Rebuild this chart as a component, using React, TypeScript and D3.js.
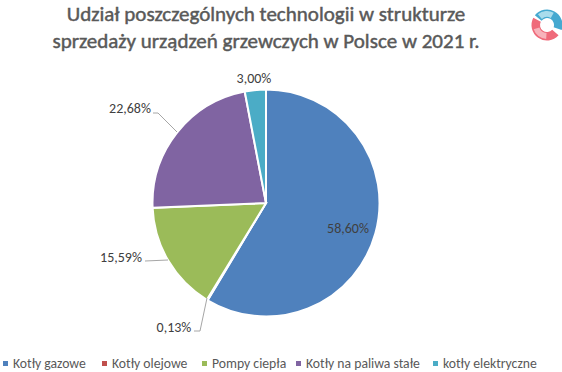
import React from "react";
import * as d3 from "d3";

const categories = ["Kotły gazowe", "Kotły olejowe", "Pompy ciepła", "Kotły na paliwa stałe", "kotły elektryczne"];
const values = [58.6, 0.13, 15.59, 22.68, 3.0];
const labels = ["58,60%", "0,13%", "15,59%", "22,68%", "3,00%"];
const colors = ["#4f81bd", "#c0504d", "#9bbb59", "#8064a2", "#4bacc6"];
const titleLines = ["Udział poszczególnych technologii w strukturze", "sprzedaży urządzeń grzewczych w Polsce w 2021 r."];
const legendX = [3, 102, 202, 296, 433];
const labelPos: [number, number][] = [
  [348, 228], [174, 327], [121, 257], [130, 108], [254, 78],
];
const leaders: [number, number][][] = [
  [],
  [[207, 298], [200, 331], [194, 331]],
  [[168, 260], [145, 261]],
  [[177, 132], [158, 113], [153, 113]],
  [],
];

const font = "Carlito, Lato, 'Open Sans', sans-serif";

export default function App() {
  const pie = d3.pie<number>().sort(null).value((d) => d)(values);
  const arc = d3.arc<d3.PieArcDatum<number>>().innerRadius(0).outerRadius(113.5);
  const line = d3.line();
  const logo = d3.arc();
  return (
    <svg width={562} height={372} style={{ position: "absolute", left: 0, top: 0, background: "#fff" }} fontFamily={font}>
      {titleLines.map((t, i) => (
        <text key={i} x={266} y={21 + i * 27} textAnchor="middle" fontSize={21} fontWeight={400} fill="#595959" stroke="#595959" strokeWidth={0.45}>{t}</text>
      ))}
      <g transform="translate(266,203)">
        {pie.map((d, i) => (
          <path key={i} d={arc(d) ?? ""} fill={colors[i]} stroke="#fff" strokeWidth={2} />
        ))}
      </g>
      {leaders.map((l, i) => l.length ? (
        <path key={i} d={line(l) ?? ""} fill="none" stroke="#a6a6a6" strokeWidth={1} />
      ) : null)}
      {labels.map((t, i) => (
        <text key={i} x={labelPos[i][0]} y={labelPos[i][1] + 5} textAnchor="middle" fontSize={14} fill="#404040">{t}</text>
      ))}
      {categories.map((c, i) => (
        <g key={i}>
          <rect x={legendX[i]} y={361} width={5} height={5} fill={colors[i]} />
          <text x={legendX[i] + 10} y={368} fontSize={13.7} fill="#595959">{c}</text>
        </g>
      ))}
      <g transform="translate(547,25)">
        <path d={logo({ innerRadius: 7, outerRadius: 15.5, startAngle: -0.9, endAngle: 1.9 }) ?? ""} fill="#45a9d0" />
        <path d={logo({ innerRadius: 7, outerRadius: 15.5, startAngle: 2.3, endAngle: 5.2 }) ?? ""} fill="#ef6a7a" />
        <path d={logo({ innerRadius: 8, outerRadius: 14, startAngle: -0.7, endAngle: 0.5 }) ?? ""} fill="#a9dcec" />
        <path d={logo({ innerRadius: 8, outerRadius: 14, startAngle: 3.2, endAngle: 4.4 }) ?? ""} fill="#f7b3bb" />
      </g>
    </svg>
  );
}
